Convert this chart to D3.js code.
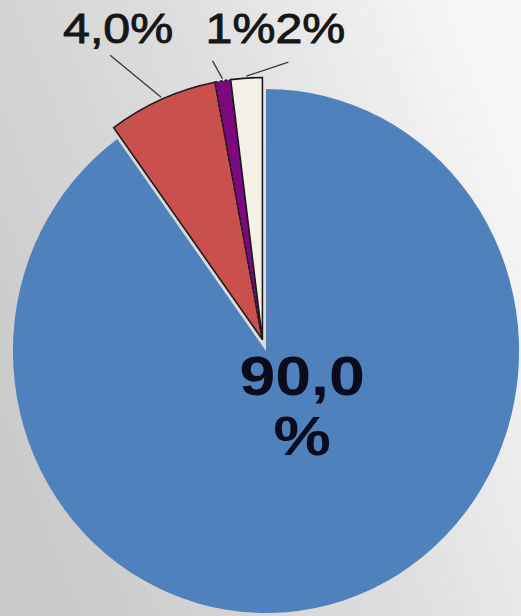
<!DOCTYPE html>
<meta charset="utf-8">
<head>
<style>
body {
  margin: 0;
  background: #d8d8d8;
}
svg {
  display: block;
}
.lbl {
  font-family: 'Liberation Sans', Arial, sans-serif;
  fill: #161616;
  stroke: #161616;
  stroke-width: 0.9px;
}
.big {
  font-family: 'Liberation Sans', Arial, sans-serif;
  font-weight: bold;
  fill: #0b0b1e;
}
</style>
<script src="https://cdn.jsdelivr.net/npm/d3@7"></script>
</head>
<body>
<svg id="chart"></svg>

<script>

// values (clockwise from 12 o'clock)
var categories = ['a', 'b', 'c', 'd']
var values = [90, 7, 1, 2]
var labels = ['90,0', '4,0%', '1%', '2%']
var colors = ['#4f81bd', '#c9504c', '#7c0a7e', '#f3f1e6']

var width = 521, height = 616
var cx = 266, cy = 351
var radius = 262
var sx = 0.966      // pie is a bit narrower than tall
var txs = 1.15      // text is drawn a bit wide too
var explode = 12

var svg = d3.select('#chart')
  .attr('width', width)
  .attr('height', height)

// background
var defs = svg.append('defs')
var grad = defs.append('linearGradient')
  .attr('id', 'bg')
  .attr('x1', 0).attr('y1', 0.7)
  .attr('x2', 1).attr('y2', 0.25)
grad.append('stop').attr('offset', '0%').attr('stop-color', '#cacaca')
grad.append('stop').attr('offset', '55%').attr('stop-color', '#dedede')
grad.append('stop').attr('offset', '100%').attr('stop-color', '#f7f7f7')

svg.append('rect')
  .attr('width', width)
  .attr('height', height)
  .attr('fill', 'url(#bg)')

var data = categories.map(function (c, i) {
  return {name: c, value: values[i], label: labels[i], color: colors[i]}
})

var pie = d3.pie()
  .sort(null)
  .value(function (d) { return d.value })

var arcs = pie(data)

var arc = d3.arc()
  .innerRadius(0)
  .outerRadius(radius)

// the small slices are pulled out together, along their common middle
var small = arcs.slice(1)
var midA = (small[0].startAngle + small[small.length - 1].endAngle) / 2
var ox = Math.sin(midA) * explode * sx
var oy = -Math.cos(midA) * explode

var pieG = svg.append('g')
  .attr('transform', 'translate(' + cx + ',' + cy + ') scale(' + sx + ',1)')

pieG.selectAll('path.slice')
  .data(arcs)
  .enter().append('path')
  .attr('class', 'slice')
  .attr('d', arc)
  .attr('transform', function (d, i) {
    return i === 0 ? null : 'translate(' + (ox / sx) + ',' + oy + ')'
  })
  .attr('fill', function (d) { return d.data.color })
  .attr('stroke', function (d, i) { return i === 0 ? 'none' : '#1a1a1a' })
  .attr('stroke-width', function (d, i) { return i === 0 ? 0 : 1.6 })
  .attr('stroke-dasharray', function (d, i) { return i === 2 ? '3,2' : null })
  .attr('stroke-linejoin', 'miter')

// screen point for an angle / radius, with explode offset
function pt (a, r, off) {
  return [
    cx + Math.sin(a) * r * sx + (off ? ox : 0),
    cy - Math.cos(a) * r + (off ? oy : 0)
  ]
}

// leader lines + labels of the small slices
var labelPos = [
  null,
  {anchor: 'end', lx: -51, ly: -42, dx: 63, dy: -12},
  {anchor: 'start', lx: -10, ly: -18, dx: -7, dy: -18},
  {anchor: 'start', lx: 42, ly: -14, dx: -13, dy: -19}
]

var lab = svg.append('g')

small.forEach(function (d, k) {
  var i = k + 1
  var p = labelPos[i]
  var mid = (d.startAngle + d.endAngle) / 2
  var a = pt(mid, radius + 2, true)
  var b = [a[0] + p.lx, a[1] + p.ly]

  lab.append('line')
    .attr('x1', a[0]).attr('y1', a[1])
    .attr('x2', b[0]).attr('y2', b[1])
    .attr('stroke', '#333')
    .attr('stroke-width', 1.2)

  lab.append('text')
    .attr('class', 'lbl')
    .attr('transform', 'translate(' + (b[0] + p.dx) + ',' + (b[1] + p.dy) + ') scale(' + txs + ',1)')
    .attr('text-anchor', p.anchor)
    .attr('font-size', 42)
    .text(d.data.label)
})

// big slice label, two lines
var big = pt(Math.PI * 0.776, radius * 0.22, false)
var t = svg.append('text')
  .attr('class', 'big')
  .attr('transform', 'translate(' + big[0] + ',' + big[1] + ') scale(' + txs + ',1)')
  .attr('text-anchor', 'middle')
  .attr('font-size', 56)
t.append('tspan')
  .attr('x', 0).attr('y', 0)
  .text(arcs[0].data.label)
t.append('tspan')
  .attr('x', 0).attr('dy', 60)
  .text('%')

</script>
</body>
